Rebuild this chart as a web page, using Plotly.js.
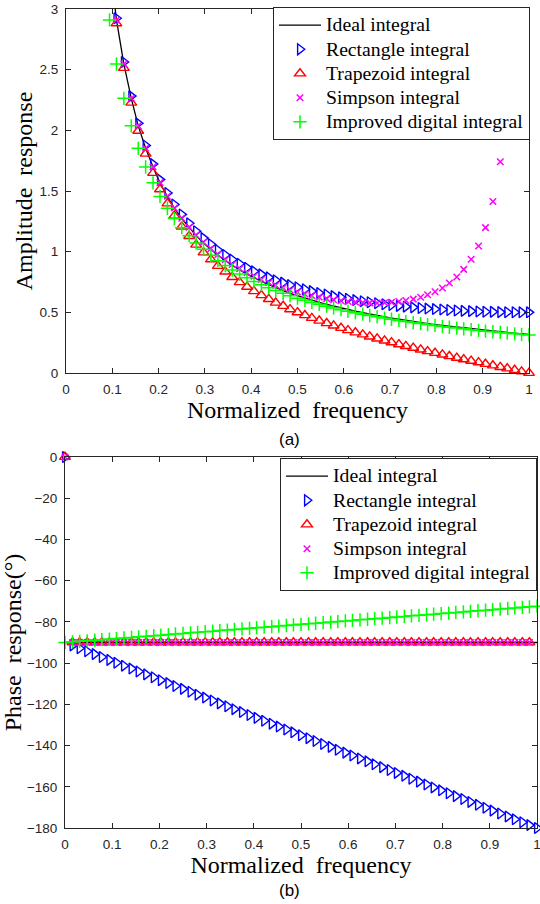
<!DOCTYPE html>
<html>
<head>
<meta charset="utf-8">
<script src="https://cdn.plot.ly/plotly-3.0.1.min.js"></script>
<style>html,body{margin:0;padding:0;background:#fff;}#chart{width:540px;height:904px;}</style>
</head>
<body>
<div id="chart"></div>
<script>
// Normalized frequency grid (k/64)
var freq = [0, 0.016, 0.031, 0.047, 0.063, 0.078, 0.094, 0.109, 0.125, 0.141, 0.156, 0.172, 0.188,
  0.203, 0.219, 0.234, 0.25, 0.266, 0.281, 0.297, 0.313, 0.328, 0.344, 0.359, 0.375, 0.391,
  0.406, 0.422, 0.438, 0.453, 0.469, 0.484, 0.5, 0.516, 0.531, 0.547, 0.563, 0.578, 0.594,
  0.609, 0.625, 0.641, 0.656, 0.672, 0.688, 0.703, 0.719, 0.734, 0.75, 0.766, 0.781, 0.797,
  0.813, 0.828, 0.844, 0.859, 0.875, 0.891, 0.906, 0.922, 0.938, 0.953, 0.969, 0.984, 1];

var seriesNames = ["Ideal integral", "Rectangle integral", "Trapezoid integral", "Simpson integral", "Improved digital integral"];

// (a) Amplitude response
var idealAmpStart = 6;
var idealAmp = [3.395, 2.910, 2.546, 2.264, 2.037, 1.852, 1.698, 1.567, 1.455, 1.358, 1.273, 1.198, 1.132,
  1.072, 1.019, 0.970, 0.926, 0.886, 0.849, 0.815, 0.784, 0.755, 0.728, 0.702, 0.679, 0.657, 0.637,
  0.617, 0.599, 0.582, 0.566, 0.551, 0.536, 0.522, 0.509, 0.497, 0.485, 0.474, 0.463, 0.453, 0.443,
  0.433, 0.424, 0.416, 0.407, 0.399, 0.392, 0.384, 0.377, 0.370, 0.364, 0.357, 0.351, 0.345, 0.340,
  0.334, 0.329, 0.323, 0.318];
var rectAmpStart = 7;
var rectAmp = [2.924, 2.563, 2.282, 2.058, 1.875, 1.722, 1.594, 1.484, 1.389, 1.307, 1.234, 1.169, 1.112,
  1.061, 1.014, 0.973, 0.935, 0.900, 0.868, 0.839, 0.813, 0.788, 0.765, 0.745, 0.725, 0.707, 0.690,
  0.675, 0.660, 0.647, 0.634, 0.623, 0.612, 0.601, 0.592, 0.583, 0.575, 0.567, 0.560, 0.553, 0.547,
  0.541, 0.536, 0.531, 0.527, 0.523, 0.519, 0.515, 0.512, 0.510, 0.507, 0.505, 0.504, 0.502, 0.501,
  0.501, 0.500, 0.500];
var trapAmpStart = 7;
var trapAmp = [2.881, 2.514, 2.227, 1.996, 1.807, 1.648, 1.513, 1.397, 1.296, 1.207, 1.128, 1.057, 0.993,
  0.936, 0.882, 0.835, 0.790, 0.748, 0.710, 0.674, 0.641, 0.609, 0.579, 0.552, 0.525, 0.500, 0.476,
  0.453, 0.431, 0.410, 0.390, 0.371, 0.352, 0.334, 0.317, 0.300, 0.283, 0.267, 0.252, 0.236, 0.222,
  0.207, 0.193, 0.179, 0.165, 0.152, 0.138, 0.125, 0.112, 0.100, 0.087, 0.074, 0.062, 0.049, 0.037,
  0.025, 0.012, 0.000];
var simpAmpStart = 7;
var simpAmp = [2.909, 2.547, 2.264, 2.038, 1.853, 1.699, 1.569, 1.457, 1.360, 1.276, 1.202, 1.136, 1.077,
  1.024, 0.977, 0.934, 0.895, 0.860, 0.827, 0.798, 0.771, 0.746, 0.723, 0.703, 0.684, 0.667, 0.651,
  0.637, 0.625, 0.613, 0.604, 0.596, 0.589, 0.584, 0.580, 0.578, 0.577, 0.579, 0.583, 0.589, 0.598,
  0.609, 0.625, 0.645, 0.670, 0.701, 0.741, 0.791, 0.854, 0.937, 1.047, 1.198, 1.413, 1.741];
var impAmpStart = 6;
var impAmp = [2.910, 2.546, 2.264, 2.037, 1.852, 1.698, 1.567, 1.455, 1.358, 1.273, 1.198, 1.132, 1.072,
  1.019, 0.970, 0.926, 0.886, 0.849, 0.815, 0.784, 0.755, 0.728, 0.702, 0.679, 0.657, 0.637, 0.617,
  0.599, 0.582, 0.566, 0.551, 0.536, 0.522, 0.509, 0.497, 0.485, 0.474, 0.463, 0.453, 0.443, 0.433,
  0.424, 0.416, 0.407, 0.399, 0.392, 0.384, 0.377, 0.370, 0.364, 0.357, 0.351, 0.345, 0.340, 0.334,
  0.329, 0.323, 0.318, 0.313];

// (b) Phase response (degrees)
var idealPhase = [-90, -90, -90, -90, -90, -90, -90, -90, -90, -90, -90, -90, -90,
  -90, -90, -90, -90, -90, -90, -90, -90, -90, -90, -90, -90, -90,
  -90, -90, -90, -90, -90, -90, -90, -90, -90, -90, -90, -90, -90,
  -90, -90, -90, -90, -90, -90, -90, -90, -90, -90, -90, -90, -90,
  -90, -90, -90, -90, -90, -90, -90, -90, -90, -90, -90, -90, -90];
var rectPhase = [0, -91.41, -92.81, -94.22, -95.63, -97.03, -98.44, -99.84, -101.25, -102.66, -104.06,
  -105.47, -106.88, -108.28, -109.69, -111.09, -112.5, -113.91, -115.31, -116.72, -118.13, -119.53,
  -120.94, -122.34, -123.75, -125.16, -126.56, -127.97, -129.38, -130.78, -132.19, -133.59, -135,
  -136.41, -137.81, -139.22, -140.63, -142.03, -143.44, -144.84, -146.25, -147.66, -149.06, -150.47,
  -151.88, -153.28, -154.69, -156.09, -157.5, -158.91, -160.31, -161.72, -163.13, -164.53, -165.94,
  -167.34, -168.75, -170.16, -171.56, -172.97, -174.38, -175.78, -177.19, -178.59, -180];
var trapPhase = [0, -90, -90, -90, -90, -90, -90, -90, -90, -90, -90, -90, -90,
  -90, -90, -90, -90, -90, -90, -90, -90, -90, -90, -90, -90, -90,
  -90, -90, -90, -90, -90, -90, -90, -90, -90, -90, -90, -90, -90,
  -90, -90, -90, -90, -90, -90, -90, -90, -90, -90, -90, -90, -90,
  -90, -90, -90, -90, -90, -90, -90, -90, -90, -90, -90, -90];
var simpPhase = [0, -90, -90, -90, -90, -90, -90, -90, -90, -90, -90, -90, -90,
  -90, -90, -90, -90, -90, -90, -90, -90, -90, -90, -90, -90, -90,
  -90, -90, -90, -90, -90, -90, -90, -90, -90, -90, -90, -90, -90,
  -90, -90, -90, -90, -90, -90, -90, -90, -90, -90, -90, -90, -90,
  -90, -90, -90, -90, -90, -90, -90, -90, -90, -90, -90, -90];
var impPhase = [-90, -89.73, -89.45, -89.18, -88.9, -88.63, -88.35, -88.08, -87.8, -87.53, -87.25,
  -86.98, -86.7, -86.43, -86.15, -85.88, -85.6, -85.33, -85.05, -84.78, -84.5, -84.23, -83.95,
  -83.68, -83.4, -83.13, -82.85, -82.58, -82.3, -82.03, -81.75, -81.48, -81.2, -80.93, -80.65,
  -80.38, -80.1, -79.83, -79.55, -79.28, -79, -78.73, -78.45, -78.18, -77.9, -77.63, -77.35,
  -77.08, -76.8, -76.53, -76.25, -75.98, -75.7, -75.43, -75.15, -74.88, -74.6, -74.33, -74.05,
  -73.78, -73.5, -73.23, -72.95, -72.68, -72.4];

var xTicks = [0, 0.1, 0.2, 0.3, 0.4, 0.5, 0.6, 0.7, 0.8, 0.9, 1];
var xTickText = ["0", "0.1", "0.2", "0.3", "0.4", "0.5", "0.6", "0.7", "0.8", "0.9", "1"];
var ampTicks = [0, 0.5, 1, 1.5, 2, 2.5, 3];
var ampTickText = ["0", "0.5", "1", "1.5", "2", "2.5", "3"];
var phaseTicks = [-180, -160, -140, -120, -100, -80, -60, -40, -20, 0];

function xs(start, arr) { return freq.slice(start, start + arr.length); }

var styles = [
  {mode: "lines", line: {color: "#000000", width: 1.3}},
  {mode: "markers", marker: {symbol: "triangle-right-open", size: 9.5, color: "#0000FF", line: {color: "#0000FF", width: 1.4}}},
  {mode: "markers", marker: {symbol: "triangle-up-open", size: 9.5, color: "#FF0000", line: {color: "#FF0000", width: 1.4}}},
  {mode: "markers", marker: {symbol: "x-thin-open", size: 6.5, color: "#FF00FF", line: {color: "#FF00FF", width: 1.5}}},
  {mode: "markers", marker: {symbol: "cross-thin-open", size: 9.5, color: "#00FF00", line: {color: "#00FF00", width: 1.5}}}
];

function legendLabel(s) { return '<span style="font-size:19.7px">' + s + '</span>'; }

function mk(i, x, y, xa, ya, leg) {
  var t = {type: "scatter", name: legendLabel(seriesNames[i]), x: x, y: y, xaxis: xa, yaxis: ya, legend: leg,
    mode: styles[i].mode, hoverinfo: "skip", cliponaxis: i === 0};
  if (styles[i].line) t.line = styles[i].line;
  if (styles[i].marker) t.marker = styles[i].marker;
  return t;
}

var data = [
  mk(0, xs(idealAmpStart, idealAmp), idealAmp, "x", "y", "legend"),
  mk(1, xs(rectAmpStart, rectAmp), rectAmp, "x", "y", "legend"),
  mk(2, xs(trapAmpStart, trapAmp), trapAmp, "x", "y", "legend"),
  mk(3, xs(simpAmpStart, simpAmp), simpAmp, "x", "y", "legend"),
  mk(4, xs(impAmpStart, impAmp), impAmp, "x", "y", "legend"),
  mk(0, xs(0, idealPhase), idealPhase, "x2", "y2", "legend2"),
  mk(1, xs(0, rectPhase), rectPhase, "x2", "y2", "legend2"),
  mk(2, xs(0, trapPhase), trapPhase, "x2", "y2", "legend2"),
  mk(3, xs(0, simpPhase), simpPhase, "x2", "y2", "legend2"),
  mk(4, xs(0, impPhase), impPhase, "x2", "y2", "legend2")
];

var axColor = "#262626";
var tickFont = {family: "Liberation Sans, Arial, sans-serif", size: 13.5, color: axColor};
var titleFont = {family: "Liberation Serif, Times New Roman, serif", size: 24, color: "#000000"};
function axBase() {
  return {showgrid: false, zeroline: false, showline: true, linecolor: axColor, linewidth: 1,
    mirror: "ticks", ticks: "inside", ticklen: 5, tickwidth: 1, tickcolor: axColor,
    tickfont: tickFont, fixedrange: true, ticklabelstandoff: 4, ticklabeloverflow: "allow"};
}
var legBase = {font: {family: "Liberation Serif, Times New Roman, serif", size: 16.3, color: "#000000"},
  bgcolor: "#FFFFFF", bordercolor: axColor, borderwidth: 1, xanchor: "right", yanchor: "top",
  itemwidth: 42, tracegroupgap: 0, traceorder: "normal"};

var layout = {
  width: 540, height: 904,
  margin: {l: 0, r: 0, t: 0, b: 0},
  paper_bgcolor: "#FFFFFF", plot_bgcolor: "#FFFFFF",
  showlegend: true,
  xaxis: Object.assign(axBase(), {domain: [66/540, 529/540], range: [0, 1], anchor: "y",
    tickvals: xTicks, ticktext: xTickText,
    title: {text: "Normalized\u00A0\u00A0frequency", font: titleFont, standoff: 4}}),
  yaxis: Object.assign(axBase(), {domain: [1 - 373/904, 1 - 9/904], range: [0, 3], anchor: "x",
    tickvals: ampTicks, ticktext: ampTickText,
    title: {text: "Amplitude\u00A0\u00A0response", font: titleFont, standoff: 0}}),
  xaxis2: Object.assign(axBase(), {domain: [65/540, 537/540], range: [0, 1], anchor: "y2",
    tickvals: xTicks, ticktext: xTickText,
    title: {text: "Normalized\u00A0\u00A0frequency", font: titleFont, standoff: 0}}),
  yaxis2: Object.assign(axBase(), {domain: [1 - 828/904, 1 - 457/904], range: [-180, 0], anchor: "x2",
    tickvals: phaseTicks,
    title: {text: "Phase\u00A0\u00A0response(°)", font: titleFont, standoff: 2}}),
  legend: Object.assign({}, legBase, {x: 530/540, y: 1 - 7/904}),
  legend2: Object.assign({}, legBase, {x: 537/540, y: 1 - 458/904}),
  annotations: [
    {text: "(a)", xref: "paper", yref: "paper", x: 289/540, y: 1 - 439/904, xanchor: "center", yanchor: "middle",
      showarrow: false, font: {family: "Liberation Sans, Arial, sans-serif", size: 17, color: "#000000"}},
    {text: "(b)", xref: "paper", yref: "paper", x: 289/540, y: 1 - 890/904, xanchor: "center", yanchor: "middle",
      showarrow: false, font: {family: "Liberation Sans, Arial, sans-serif", size: 17, color: "#000000"}}
  ]
};

Plotly.newPlot("chart", data, layout, {staticPlot: true, displayModeBar: false});
</script>
</body>
</html>
